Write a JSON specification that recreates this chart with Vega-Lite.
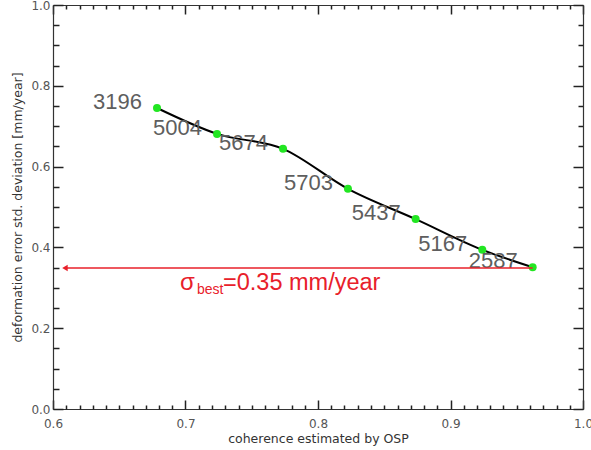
{
  "$schema": "https://vega.github.io/schema/vega-lite/v6.json",
  "width": 530,
  "height": 404,
  "autosize": {"type": "none"},
  "padding": {"left": 53, "top": 5, "right": 8, "bottom": 41},
  "background": "white",
  "config": {
    "view": {"stroke": null, "fill": null},
    "axis": {
      "domainColor": "#333333",
      "labelColor": "#555555",
      "titleColor": "#333333",
      "labelFont": "DejaVu Sans",
      "titleFont": "DejaVu Sans",
      "labelFontSize": 12,
      "titleFontSize": 12.5,
      "titleFontWeight": "normal",
      "grid": false,
      "domainWidth": 1.2,
      "labelFlush": false,
      "labelOverlap": false,
      "zindex": 1
    }
  },
  "datasets": {
    "pts": [
      {"coherence": 0.6785, "sigma": 0.745, "n": "3196"},
      {"coherence": 0.7238, "sigma": 0.681, "n": "5004"},
      {"coherence": 0.7736, "sigma": 0.644, "n": "5674"},
      {"coherence": 0.8226, "sigma": 0.545, "n": "5703"},
      {"coherence": 0.8737, "sigma": 0.470, "n": "5437"},
      {"coherence": 0.9240, "sigma": 0.394, "n": "5167"},
      {"coherence": 0.9620, "sigma": 0.351, "n": "2587"}
    ],
    "arrow": [{"x1": 0.609, "x2": 0.962, "y": 0.349}]
  },
  "resolve": {"axis": {"x": "independent", "y": "independent"}},
  "layer": [
    {
      "data": {"name": "pts"},
      "mark": {"type": "line", "color": "black", "strokeWidth": 2, "interpolate": "monotone"},
      "encoding": {
        "x": {"field": "coherence", "type": "quantitative",
          "scale": {"domain": [0.6, 1.0], "nice": false, "zero": false},
          "axis": {"orient": "bottom", "values": [0.6, 0.7, 0.8, 0.9, 1.0], "format": ".1f", "ticks": false, "labelPadding": 9, "title": "coherence estimated by OSP", "titlePadding": 3}},
        "y": {"field": "sigma", "type": "quantitative",
          "scale": {"domain": [0, 1], "nice": false, "zero": false},
          "axis": {"orient": "left", "values": [0, 0.2, 0.4, 0.6, 0.8, 1.0], "format": ".1f", "ticks": false, "labelPadding": 3, "title": "deformation error std. deviation [mm/year]", "titlePadding": 6}}
      }
    },
    {
      "data": {"name": "pts"},
      "mark": {"type": "circle", "color": "#22e622", "opacity": 1, "size": 64},
      "encoding": {
        "x": {"field": "coherence", "type": "quantitative",
          "scale": {"domain": [0.6, 1.0], "nice": false, "zero": false},
          "axis": {"orient": "bottom", "offset": -9, "values": [0.6, 0.7, 0.8, 0.9, 1.0], "ticks": true, "tickSize": 9, "tickColor": "#222222", "tickWidth": 1.5, "tickOpacity": 1, "labels": false, "domain": false, "title": null}},
        "y": {"field": "sigma", "type": "quantitative",
          "scale": {"domain": [0, 1], "nice": false, "zero": false},
          "axis": {"orient": "left", "offset": -10, "values": [0, 0.2, 0.4, 0.6, 0.8, 1.0], "ticks": true, "tickSize": 10, "tickColor": "#222222", "tickWidth": 1.5, "tickOpacity": 1, "labels": false, "domain": false, "title": null}}
      }
    },
    {
      "data": {"name": "pts"},
      "mark": {"type": "text", "align": "right", "baseline": "middle", "dx": -15, "dy": -6, "font": "Liberation Sans", "fontSize": 22, "color": "#5e5e5e"},
      "encoding": {
        "x": {"field": "coherence", "type": "quantitative",
          "scale": {"domain": [0.6, 1.0], "nice": false, "zero": false},
          "axis": {"orient": "bottom", "offset": -4, "values": [0.61,0.62,0.63,0.64,0.65,0.66,0.67,0.68,0.69,0.71,0.72,0.73,0.74,0.75,0.76,0.77,0.78,0.79,0.81,0.82,0.83,0.84,0.85,0.86,0.87,0.88,0.89,0.91,0.92,0.93,0.94,0.95,0.96,0.97,0.98,0.99], "ticks": true, "tickSize": 4, "tickColor": "#222222", "tickWidth": 1.5, "tickOpacity": 1, "labels": false, "domain": false, "title": null}},
        "y": {"field": "sigma", "type": "quantitative",
          "scale": {"domain": [0, 1], "nice": false, "zero": false},
          "axis": {"orient": "left", "offset": -6, "values": [0.05,0.1,0.15,0.25,0.3,0.35,0.45,0.5,0.55,0.65,0.7,0.75,0.85,0.9,0.95], "ticks": true, "tickSize": 6, "tickColor": "#222222", "tickWidth": 1.5, "tickOpacity": 1, "labels": false, "domain": false, "title": null}},
        "text": {"field": "n"}
      }
    },
    {
      "data": {"name": "arrow"},
      "mark": {"type": "rule", "color": "#e8202a", "strokeWidth": 1.5},
      "encoding": {
        "x": {"field": "x1", "type": "quantitative",
          "scale": {"domain": [0.6, 1.0], "nice": false, "zero": false},
          "axis": {"orient": "top", "offset": -9, "values": [0.6, 0.7, 0.8, 0.9, 1.0], "ticks": true, "tickSize": 9, "tickColor": "#222222", "tickWidth": 1.5, "tickOpacity": 1, "labels": false, "domain": false, "title": null}},
        "x2": {"field": "x2"},
        "y": {"field": "y", "type": "quantitative",
          "scale": {"domain": [0, 1], "nice": false, "zero": false},
          "axis": {"orient": "right", "offset": -10, "values": [0, 0.2, 0.4, 0.6, 0.8, 1.0], "ticks": true, "tickSize": 10, "tickColor": "#222222", "tickWidth": 1.5, "tickOpacity": 1, "labels": false, "domain": false, "title": null}}
      }
    },
    {
      "data": {"name": "arrow"},
      "mark": {"type": "point", "shape": "triangle-left", "filled": true, "color": "#e8202a", "size": 40, "opacity": 1},
      "encoding": {
        "x": {"field": "x1", "type": "quantitative",
          "scale": {"domain": [0.6, 1.0], "nice": false, "zero": false},
          "axis": {"orient": "top", "offset": -4, "values": [0.61,0.62,0.63,0.64,0.65,0.66,0.67,0.68,0.69,0.71,0.72,0.73,0.74,0.75,0.76,0.77,0.78,0.79,0.81,0.82,0.83,0.84,0.85,0.86,0.87,0.88,0.89,0.91,0.92,0.93,0.94,0.95,0.96,0.97,0.98,0.99], "ticks": true, "tickSize": 4, "tickColor": "#222222", "tickWidth": 1.5, "tickOpacity": 1, "labels": false, "domain": false, "title": null}},
        "y": {"field": "y", "type": "quantitative",
          "scale": {"domain": [0, 1], "nice": false, "zero": false},
          "axis": {"orient": "right", "offset": -5, "values": [0.05,0.1,0.15,0.25,0.3,0.35,0.45,0.5,0.55,0.65,0.7,0.75,0.85,0.9,0.95], "ticks": true, "tickSize": 5, "tickColor": "#222222", "tickWidth": 1.5, "tickOpacity": 1, "labels": false, "domain": false, "title": null}}
      }
    },
    {
      "data": {"values": [{"x": 0.6958, "y": 0.2946, "t": "σ"}]},
      "mark": {"type": "text", "align": "left", "baseline": "alphabetic", "font": "Liberation Sans", "fontSize": 24, "color": "#e8202a"},
      "encoding": {
        "x": {"field": "x", "type": "quantitative", "scale": {"domain": [0.6, 1.0], "nice": false, "zero": false},
          "axis": {"orient": "top", "ticks": false, "labels": false, "domain": true, "title": null}},
        "y": {"field": "y", "type": "quantitative", "scale": {"domain": [0, 1], "nice": false, "zero": false},
          "axis": {"orient": "right", "ticks": false, "labels": false, "domain": true, "title": null}},
        "text": {"field": "t"}
      }
    },
    {
      "data": {"values": [{"x": 0.7087, "y": 0.2847, "t": "best"}]},
      "mark": {"type": "text", "align": "left", "baseline": "alphabetic", "font": "Liberation Sans", "fontSize": 14, "color": "#e8202a"},
      "encoding": {
        "x": {"field": "x", "type": "quantitative", "scale": {"domain": [0.6, 1.0], "nice": false, "zero": false}, "axis": null},
        "y": {"field": "y", "type": "quantitative", "scale": {"domain": [0, 1], "nice": false, "zero": false}, "axis": null},
        "text": {"field": "t"}
      }
    },
    {
      "data": {"values": [{"x": 0.7283, "y": 0.2946, "t": "=0.35 mm/year"}]},
      "mark": {"type": "text", "align": "left", "baseline": "alphabetic", "font": "Liberation Sans", "fontSize": 23.5, "color": "#e8202a"},
      "encoding": {
        "x": {"field": "x", "type": "quantitative", "scale": {"domain": [0.6, 1.0], "nice": false, "zero": false}, "axis": null},
        "y": {"field": "y", "type": "quantitative", "scale": {"domain": [0, 1], "nice": false, "zero": false}, "axis": null},
        "text": {"field": "t"}
      }
    }
  ]
}
